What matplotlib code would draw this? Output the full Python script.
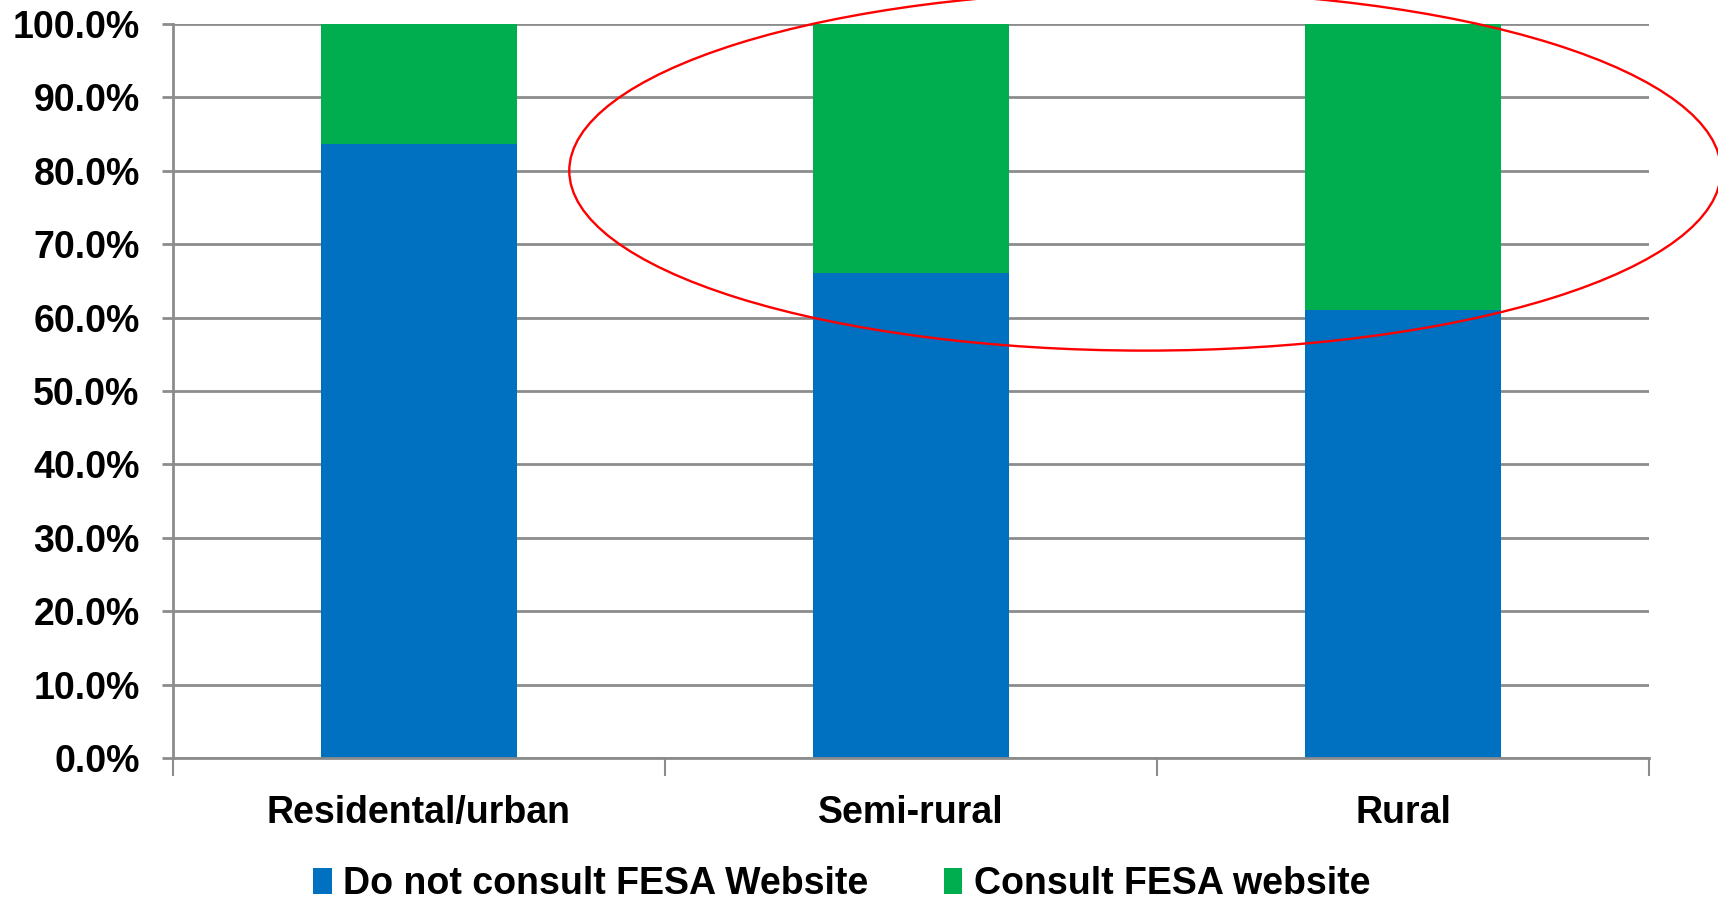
import numpy as np
import matplotlib
matplotlib.use("Agg")
import matplotlib.pyplot as plt
from matplotlib.patches import Ellipse
from matplotlib.ticker import PercentFormatter, FixedLocator

categories = ["Residental/urban", "Semi-rural", "Rural"]
not_consult = [83.7, 66.1, 61.0]
consult = [16.3, 33.9, 39.0]
series_names = ["Do not consult FESA Website", "Consult FESA website"]
colors = ["#0070c0", "#00ad4f"]

plt.rcParams['font.family'] = ['Liberation Sans', 'DejaVu Sans']
plt.rcParams['font.weight'] = 'bold'

fig = plt.figure(figsize=(17.18, 9.08), dpi=100)
ax = fig.add_axes([0.1007, 0.1652, 0.8591, 0.8084])

x = np.arange(len(categories))
b1 = ax.bar(x, not_consult, width=0.4, color=colors[0], label=series_names[0], zorder=2)
b2 = ax.bar(x, consult, width=0.4, bottom=not_consult, color=colors[1], label=series_names[1], zorder=2)

ax.set_xlim(-0.5, 2.5)
ax.set_ylim(0, 100)
ax.set_yticks(np.arange(0, 101, 10))
ax.yaxis.set_major_formatter(PercentFormatter(decimals=1))
ax.yaxis.grid(True, color="#8c8c8c", linewidth=2, zorder=1)
ax.set_axisbelow(True)

# category labels centred, tick marks on boundaries
ax.set_xticks(x)
ax.set_xticklabels(categories)
ax.tick_params(axis='x', which='major', length=0, pad=27, labelsize=27)
ax.xaxis.set_minor_locator(FixedLocator([-0.5, 0.5, 1.5, 2.5]))
ax.tick_params(axis='x', which='minor', length=13, width=1.5, color="#8c8c8c")
ax.tick_params(axis='y', length=8, width=2, color="#8c8c8c", labelsize=27, pad=16)
for lab in ax.get_xticklabels() + ax.get_yticklabels():
    lab.set_fontweight('bold')

for side in ['top', 'right']:
    ax.spines[side].set_visible(False)
for side in ['left', 'bottom']:
    ax.spines[side].set_color("#8c8c8c")
    ax.spines[side].set_linewidth(2)

# highlight around the semi-rural and rural groups
ell = Ellipse((1.476, 80), width=2.341, height=49, fill=False, edgecolor="red",
              linewidth=1.7, clip_on=False, zorder=5)
ax.add_patch(ell)

leg = fig.legend(handles=[b1, b2], loc='center', bbox_to_anchor=(0.49, 0.026), ncol=2,
                 frameon=False, fontsize=27, handlelength=0.5, handleheight=0.7,
                 handletextpad=0.3, columnspacing=2.0, borderpad=0.2)
for t in leg.get_texts():
    t.set_fontweight('bold')

fig.savefig("out.png", dpi=100)
